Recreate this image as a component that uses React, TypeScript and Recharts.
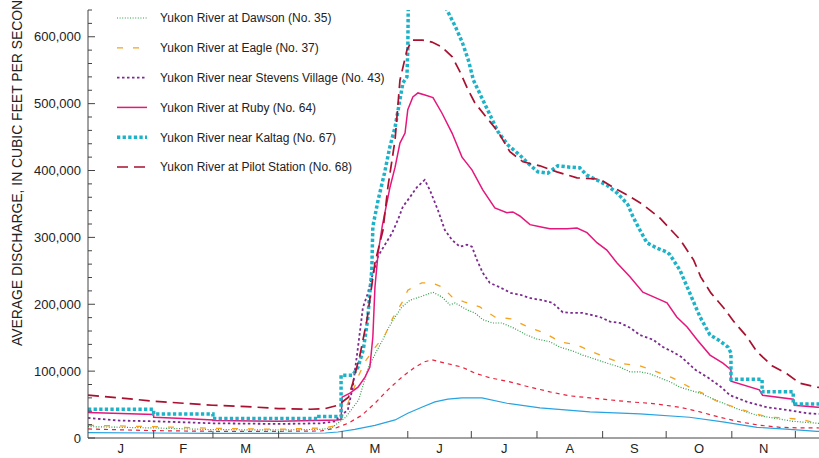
import { LineChart, Line, XAxis, YAxis, Legend } from 'recharts';

// day of year (0 = Jan 1) and mean discharge in thousands of cfs
const dawsonDays = [0, 31, 59, 90, 110, 115, 117, 121.7, 127.8, 132.5, 135.8, 139.2, 142.1, 145, 148.2, 152, 157.6, 162.9, 167.1, 170.9, 173.3, 176.6, 179.4, 182.7, 186.4, 191.1, 195.4, 200.6, 207.2, 211.9, 218, 222.8, 229, 233.6, 240.3, 245, 251.2, 255.9, 260.6, 265.3, 270, 274.8, 279.5, 289, 298.4, 307.9, 315.9, 323.4, 332.8, 344.6, 365];
const dawsonFlow = [17, 15, 12.5, 12, 13, 15, 20, 31, 57, 106, 127, 147, 166, 181, 196, 206, 212, 218, 211, 199, 202, 196, 191, 187, 177, 172, 172, 165, 154, 148, 144, 136, 130, 124, 117, 112, 106, 99, 99, 96, 90, 84, 76, 67, 54, 42, 34, 30, 25, 22, 20];

const eagleDays = [0, 15, 31, 59, 90, 110, 117, 119, 122.7, 125, 128, 131, 135.5, 140.2, 144, 148.2, 151, 157.6, 162.4, 167.1, 171.9, 178, 185, 192.1, 200, 207.7, 215.7, 222.8, 230.9, 237.9, 245, 252.6, 260.6, 268.6, 276, 284, 290.2, 297.5, 306.4, 314, 322, 330, 337.6, 344.6, 365];
const eagleFlow = [19, 18, 17, 14.5, 13, 15, 18, 24, 52, 69, 95, 115, 135, 154, 180, 202, 221, 232, 232, 226, 211, 203, 196, 181, 178, 166, 157, 144, 139, 129, 120, 111, 108, 99, 90, 76, 67, 54, 45, 37, 31, 30, 27, 22, 20];

const stevensDays = [0, 15, 31, 59, 90, 110, 117, 118, 122.7, 125, 127.5, 129.8, 132, 134, 137, 140, 143.5, 146.3, 148.7, 152, 155.3, 159, 161.4, 165.2, 168.5, 171.9, 175.6, 178.9, 181.3, 183.7, 186.4, 189.7, 194, 199.6, 204.3, 209, 214.7, 219.4, 224.2, 228.9, 233.6, 241.7, 246.5, 251.2, 255.9, 260.6, 266.8, 271.5, 276, 280.2, 286.8, 292.9, 299, 303.1, 311.2, 320.6, 330, 339.5, 344.6, 365];
const stevensFlow = [30, 26, 25, 22, 21, 22, 25, 30, 42, 76, 136, 195, 215, 240, 272, 288, 306, 326, 346, 360, 375, 386, 371, 341, 311, 296, 286, 289, 286, 266, 247, 232, 226, 217, 214, 209, 206, 202, 188, 187, 187, 181, 174, 172, 165, 154, 147, 136, 129, 121, 102, 90, 76, 64, 54, 46, 42, 37, 36, 34];

const rubyDays = [0, 31, 31, 45, 59, 59, 90, 118, 119.5, 120, 123.7, 127.5, 130.8, 133.1, 134.5, 135.5, 137, 139, 142.6, 145, 147.3, 149.7, 151, 153.4, 155.8, 159.1, 162.9, 167.1, 171.9, 176.6, 181.3, 186.4, 192.1, 197.8, 200.6, 203.9, 208.7, 213.4, 218.1, 226.2, 230.9, 235.6, 240.3, 245, 249.7, 255.9, 262, 270, 273.4, 278, 282.9, 287.6, 293.7, 299.8, 303.6, 303.6, 317, 318.5, 333, 333.5, 344.6, 365];
const rubyFlow = [38, 35, 31, 29, 27, 26, 25, 27, 28, 61, 67, 76, 91, 106, 151, 226, 277, 318, 375, 405, 441, 456, 491, 510, 516, 513, 509, 486, 456, 420, 401, 371, 344, 337, 338, 332, 319, 316, 313, 313, 314, 307, 292, 281, 262, 241, 218, 207, 202, 181, 166, 147, 124, 112, 102, 85, 72, 64, 58, 49, 46, 44];

const kaltagDays = [0, 31, 31, 59, 59, 109, 109, 119.5, 119.5, 125, 127.5, 130, 132, 134, 134.5, 137, 140, 142.5, 145, 147.3, 148.7, 150.6, 151, 151.2, 156, 161, 166, 169.5, 173.5, 176.8, 179.6, 182, 193.6, 198.3, 203.9, 207.7, 212.4, 217.1, 221.8, 227.5, 232.2, 235.5, 240.2, 245, 250, 254.9, 257.3, 260.6, 263.9, 268.6, 273.4, 274.8, 279.5, 282.9, 285.6, 289, 293.7, 297.5, 302.2, 303.6, 303.6, 318.3, 318.3, 333, 333, 365];
const kaltagFlow = [43, 43, 36, 36, 29, 29, 32, 32, 94, 94, 106, 132, 176, 251, 316, 356, 396, 435, 465, 506, 531, 540, 580, 640, 690, 705, 680, 640, 615, 591, 565, 535, 458, 438, 423, 411, 398, 396, 407, 405, 404, 393, 386, 378, 366, 349, 331, 311, 292, 284, 278, 274, 251, 226, 206, 181, 154, 147, 136, 127, 88, 88, 69, 69, 51, 51];

const pilotDays = [0, 15, 31, 45, 59, 75, 90, 105, 112, 118, 123, 125, 128.4, 131.7, 135.5, 139.3, 141.6, 145, 147.3, 150.6, 153, 158, 162.4, 167, 172, 175.6, 179.4, 182.7, 193.6, 199.2, 205.4, 213.4, 221.4, 230.9, 241.7, 247.9, 255.9, 262, 270, 279.5, 286, 289.3, 294.1, 300.3, 305, 310.7, 315.9, 323, 330, 336, 344, 365];
const pilotFlow = [64, 60, 55, 52, 49, 47, 44, 43, 44, 49, 61, 82, 124, 176, 262, 311, 375, 446, 535, 580, 595, 595, 592, 585, 570, 548, 521, 501, 458, 428, 413, 407, 398, 389, 387, 375, 361, 349, 329, 297, 266, 241, 217, 194, 174, 153, 129, 108, 96, 82, 76, 70];

const redDays = [0, 31, 59, 90, 110, 117, 122.8, 129.3, 135.5, 141.6, 148.2, 154.4, 159, 162.4, 168.6, 176.6, 182.7, 189.8, 199.2, 208.7, 218.1, 227.5, 237, 246.5, 255.9, 265.3, 274.8, 279.5, 289, 298.4, 307.9, 317.3, 326.7, 336.2, 344.6, 365];
const redFlow = [13.5, 11, 10, 10, 10.5, 15, 22, 34, 52, 72, 91, 106, 114, 117, 112, 106, 97, 90, 84, 76, 69, 63, 60, 57, 54, 52, 48, 46, 39, 31, 24, 19, 16, 15, 15, 14];

const blueDays = [0, 31, 59, 90, 112, 118, 126, 135.5, 145, 151, 157.6, 163.8, 169.9, 176.6, 182.7, 186, 197.8, 213.4, 237, 260.6, 284, 299.8, 315.9, 331.4, 344.2, 365];
const blueFlow = [8, 7.5, 7, 7, 7.5, 9, 13, 19, 27, 37, 46, 54, 58, 60, 60, 60, 52, 45, 39, 36, 31, 24, 16, 13, 10, 9];

// December falls beyond the visible frame, so only Jan..Nov are labelled
const monthLabels = ['J', 'F', 'M', 'A', 'M', 'J', 'J', 'A', 'S', 'O', 'N'];
const monthStarts = [0, 31, 59, 90, 120, 151, 181, 212, 243, 273, 304, 334, 365];

const FONT = '"Liberation Sans", Arial, Helvetica, sans-serif';

const toData = (days: number[], flow: number[]) => days.map((d, i) => ({ day: d, q: flow[i] * 1000 }));

const series = [
  { key: 'blue', name: '', data: toData(blueDays, blueFlow), stroke: '#27a3e2', width: 1.2, dash: undefined },
  { key: 'red', name: '', data: toData(redDays, redFlow), stroke: '#e8233d', width: 1.2, dash: '4 4' },
  { key: 'dawson', name: 'Yukon River at Dawson (No. 35)', data: toData(dawsonDays, dawsonFlow), stroke: '#2e9f48', width: 1.2, dash: '1 1.6' },
  { key: 'eagle', name: 'Yukon River at Eagle (No. 37)', data: toData(eagleDays, eagleFlow), stroke: '#f4a21c', width: 1.3, dash: '6 10' },
  { key: 'stevens', name: 'Yukon River near Stevens Village (No. 43)', data: toData(stevensDays, stevensFlow), stroke: '#7b2a8e', width: 1.8, dash: '2.5 2.5' },
  { key: 'ruby', name: 'Yukon River at Ruby (No. 64)', data: toData(rubyDays, rubyFlow), stroke: '#e6177c', width: 1.5, dash: undefined },
  { key: 'kaltag', name: 'Yukon River near Kaltag (No. 67)', data: toData(kaltagDays, kaltagFlow), stroke: '#1cb2c8', width: 3.5, dash: '3.3 2.3' },
  { key: 'pilot', name: 'Yukon River at Pilot Station (No. 68)', data: toData(pilotDays, pilotFlow), stroke: '#a8112f', width: 1.7, dash: '11 6' },
];

const legendOrder = ['dawson', 'eagle', 'stevens', 'ruby', 'kaltag', 'pilot'];

const monthMids = monthLabels.map((_, i) => (monthStarts[i] + monthStarts[i + 1]) / 2);
const xTicks = [...monthStarts.slice(1, 12), ...monthMids];
const yTicks = Array.from({ length: 33 }, (_, i) => i * 20000);

const XTick = ({ x, y, payload }: any) => {
  const mi = monthMids.indexOf(payload.value);
  if (mi >= 0) {
    return (
      <text x={x} y={y + 15} textAnchor="middle" fontSize={13} fill="#222" fontFamily={FONT}>
        {monthLabels[mi]}
      </text>
    );
  }
  return <line x1={x} x2={x} y1={y} y2={y - 7} stroke="#444" />;
};

const YTick = ({ x, y, payload }: any) => {
  const v = payload.value;
  const major = v % 100000 === 0;
  return (
    <g>
      <line x1={x} x2={x + (major ? 7 : 4)} y1={y} y2={y} stroke="#444" />
      {major && (
        <text x={x - 7} y={y + 4.5} textAnchor="end" fontSize={13} fill="#222" fontFamily={FONT}>
          {v.toLocaleString('en-US')}
        </text>
      )}
    </g>
  );
};

const renderLegend = () => (
  <svg width={400} height={185} style={{ display: 'block' }}>
    {legendOrder.map((k, i) => {
      const s = series.find((e) => e.key === k)!;
      const cy = 18 + i * 29.8;
      return (
        <g key={k}>
          <line x1={117} x2={147} y1={cy} y2={cy} stroke={s.stroke} strokeWidth={s.width} strokeDasharray={s.dash} />
          <text x={160} y={cy + 4.3} fontSize={12} fill="#222" fontFamily={FONT}>
            {s.name}
          </text>
        </g>
      );
    })}
  </svg>
);

export default function App() {
  return (
    <div style={{ position: 'fixed', left: 0, top: 0, width: 819, height: 458, overflow: 'hidden', background: '#fff' }}>
      <LineChart width={870} height={458} margin={{ top: 10, right: 9, bottom: 0, left: 0 }}>
        <XAxis
          dataKey="day"
          type="number"
          domain={[0, 365]}
          allowDataOverflow
          ticks={xTicks}
          interval={0}
          tick={<XTick />}
          tickLine={false}
          tickSize={0}
          tickMargin={0}
          height={20}
          stroke="#444"
        />
        <YAxis
          type="number"
          domain={[0, 640000]}
          allowDataOverflow
          ticks={yTicks}
          interval={0}
          tick={<YTick />}
          tickLine={false}
          tickSize={0}
          tickMargin={0}
          width={88}
          stroke="#444"
        />
        <Legend
          content={renderLegend}
          layout="vertical"
          align="center"
          verticalAlign="middle"
          wrapperStyle={{ top: 0, left: 0, width: 400, height: 185 }}
        />
        {series.map((s) => (
          <Line
            key={s.key}
            data={s.data}
            dataKey="q"
            name={s.name || s.key}
            type="linear"
            stroke={s.stroke}
            strokeWidth={s.width}
            strokeDasharray={s.dash}
            dot={false}
            activeDot={false}
            isAnimationActive={false}
          />
        ))}
      </LineChart>
      <svg width={40} height={458} style={{ position: 'absolute', left: 0, top: 0 }}>
        <text transform="translate(22,346) rotate(-90)" fontSize={13.9} fill="#222" fontFamily={FONT}>
          AVERAGE DISCHARGE, IN CUBIC FEET PER SECOND
        </text>
      </svg>
    </div>
  );
}
